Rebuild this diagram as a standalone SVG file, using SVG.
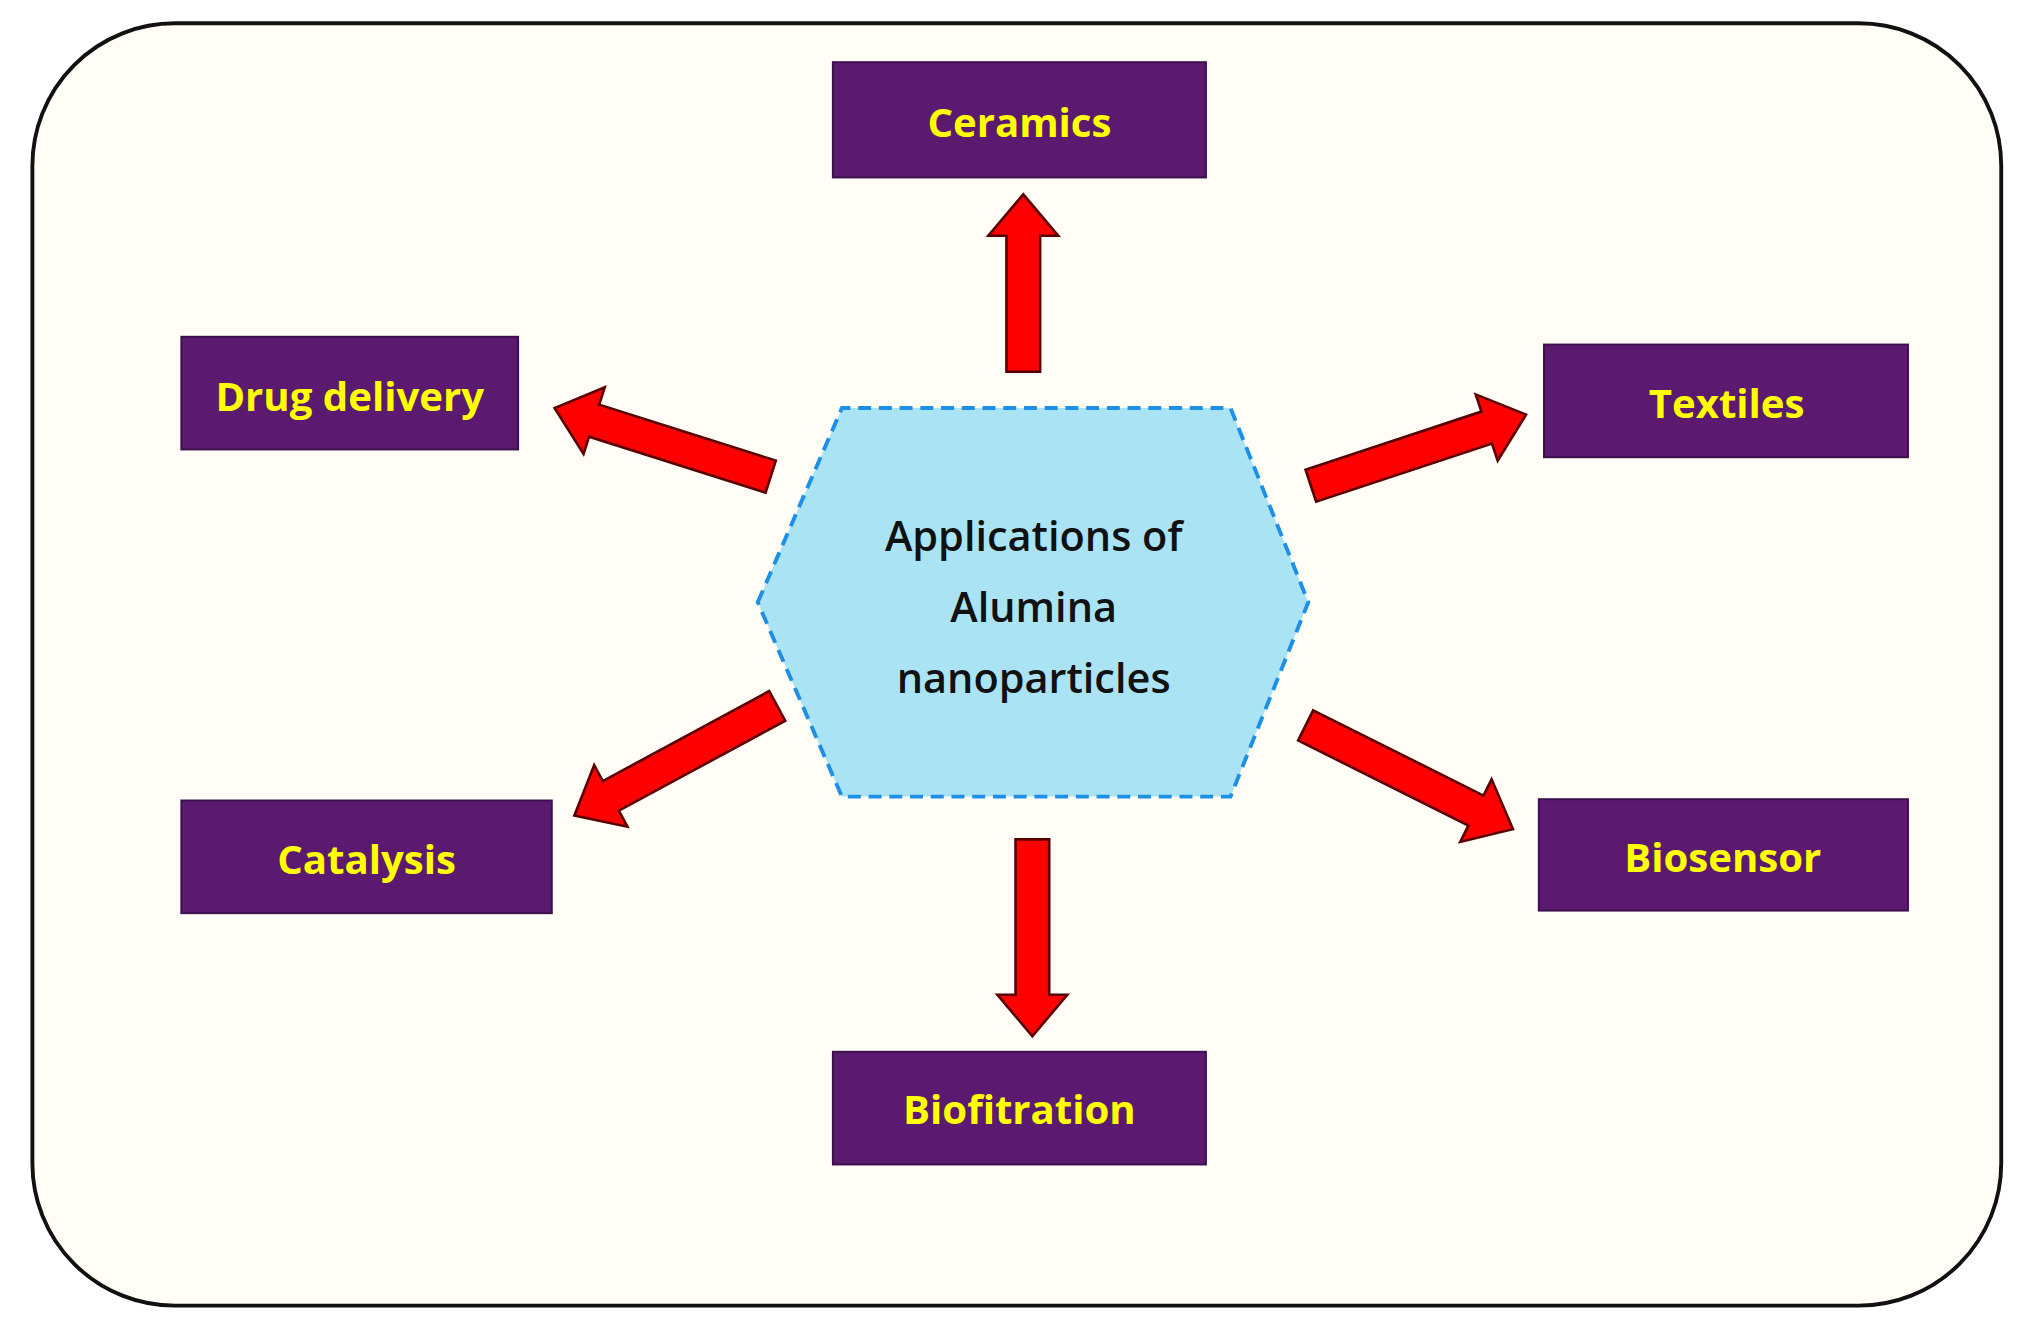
<svg xmlns="http://www.w3.org/2000/svg" width="2022" height="1331" viewBox="0 0 2022 1331">
<style>
.box{fill:#5b1a6f;stroke:#3d0f4c;stroke-width:1.5}
.lbl{fill:#ffff00;font-family:"Open Sans","Liberation Sans",sans-serif;font-weight:bold;font-size:31px;text-anchor:middle;dominant-baseline:central}
.ctr{fill:#111;font-family:"Open Sans","Liberation Sans",sans-serif;font-weight:600;font-size:32px;text-anchor:middle;dominant-baseline:central}
.arr{fill:#ff0000;stroke:#5a0000;stroke-width:2}
</style>
<rect width="2022" height="1331" fill="#ffffff"/>
<g transform="scale(1.2953)">
<rect x="25" y="18" width="1520" height="990" rx="110" fill="#fffdf6" stroke="#111" stroke-width="3"/>
<g id="connectors">
<path class="arr" transform="translate(790,287) rotate(-90)" d="M0,-13 H105 V-27 L137,0 L105,27 V13 H0 Z"/>
<path class="arr" transform="translate(797,648) rotate(90)" d="M0,-13 H120 V-27 L152,0 L120,27 V13 H0 Z"/>
<path class="arr" transform="translate(595,368) rotate(197.6)" d="M0,-13 H143 V-27 L175,0 L143,27 V13 H0 Z"/>
<path class="arr" transform="translate(1012,375) rotate(-18.3)" d="M0,-13 H143 V-27 L175,0 L143,27 V13 H0 Z"/>
<path class="arr" transform="translate(600,545) rotate(151.6)" d="M0,-13 H146 V-27 L178,0 L146,27 V13 H0 Z"/>
<path class="arr" transform="translate(1008,560) rotate(26.6)" d="M0,-13 H147 V-27 L179,0 L147,27 V13 H0 Z"/>
</g>
<g id="center">
<polygon points="585,465 650,315 950,315 1010,465 950,615 650,615" fill="#a9e3f4" stroke="#1e8fe6" stroke-width="3" stroke-dasharray="10,6"/>
<text class="ctr" x="798" y="413">Applications of</text>
<text class="ctr" x="798" y="468">Alumina</text>
<text class="ctr" x="798" y="523">nanoparticles</text>
</g>
<g id="ceramics"><rect class="box" x="643" y="48" width="288" height="89"/><text class="lbl" x="787" y="94">Ceramics</text></g>
<g id="drug"><rect class="box" x="140" y="260" width="260" height="87"/><text class="lbl" x="270" y="305">Drug delivery</text></g>
<g id="textiles"><rect class="box" x="1192" y="266" width="281" height="87"/><text class="lbl" x="1333" y="311">Textiles</text></g>
<g id="catalysis"><rect class="box" x="140" y="618" width="286" height="87"/><text class="lbl" x="283" y="663">Catalysis</text></g>
<g id="biosensor"><rect class="box" x="1188" y="617" width="285" height="86"/><text class="lbl" x="1330" y="661">Biosensor</text></g>
<g id="biofitration"><rect class="box" x="643" y="812" width="288" height="87"/><text class="lbl" x="787" y="856">Biofitration</text></g>
</g>
</svg>
